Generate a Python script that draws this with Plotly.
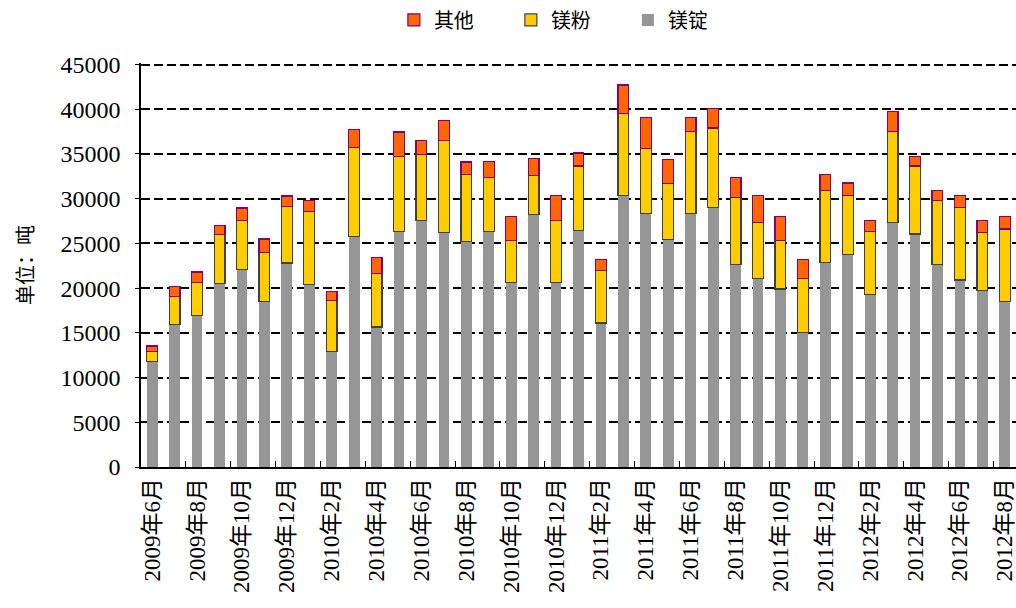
import plotly.graph_objects as go

months = []
for y in (2009, 2010, 2011, 2012):
    for m in range(1, 13):
        if (y == 2009 and m < 6) or (y == 2012 and m > 8):
            continue
        months.append(f"{y}年{m}月")

ingot = [11770, 15900, 16900, 20500, 22100, 18500, 22800, 20450, 12900, 25800,
         15650, 26350, 27600, 26200, 25200, 26350, 20650, 28200, 20650, 26400,
         16100, 30350, 28350, 25400, 28350, 29050, 22650, 21050, 19900, 15050,
         22850, 23800, 19250, 27350, 26050, 22650, 20900, 19700, 18500]
powder = [1100, 3200, 3700, 5500, 5450, 5500, 6300, 8150, 5750, 9900,
          5950, 8350, 7300, 10300, 7500, 6000, 4700, 4350, 6900, 7250,
          5900, 9150, 7300, 6300, 9150, 8850, 7500, 6300, 5450, 6000,
          8050, 6550, 7100, 10150, 7600, 7150, 8100, 6550, 8100]
other = [670, 1100, 1200, 1000, 1400, 1500, 1200, 1200, 1000, 2000,
         1800, 2750, 1600, 2200, 1400, 1800, 2650, 1950, 2800, 1450,
         1200, 3200, 3400, 2650, 1600, 2200, 2200, 3000, 2650, 2150,
         1800, 1400, 1250, 2250, 1100, 1150, 1350, 1350, 1450]

yticks = list(range(0, 45001, 5000))
ytick_text = [str(v) for v in yticks]
label_months = months[::2]
boundaries = [i + 1.5 for i in range(0, len(months) - 1, 2)]

FONT = "Liberation Serif, Noto Sans CJK SC, serif"

fig = go.Figure()
fig.add_trace(go.Bar(x=months, y=ingot, name="镁锭",
                     marker=dict(color="#969696", line=dict(width=0))))
fig.add_trace(go.Bar(x=months, y=powder, name="镁粉",
                     marker=dict(color="#FFCC00", line=dict(color="#404040", width=1.2))))
fig.add_trace(go.Bar(x=months, y=other, name="其他",
                     marker=dict(color="#FF6600", line=dict(color="#800080", width=1.2))))
# invisible helper trace on overlay axis for boundary tick marks
fig.add_trace(go.Scatter(x=[boundaries[0]], y=[0], xaxis="x2", mode="markers",
                         marker=dict(opacity=0), showlegend=False, hoverinfo="skip"))

fig.update_layout(
    width=1016, height=608,
    margin=dict(l=141, r=0, t=63, b=141, autoexpand=False),
    barmode="stack", bargap=0.52,
    plot_bgcolor="white", paper_bgcolor="white",
    font=dict(family=FONT, size=18, color="#000000"),
    legend=dict(orientation="h", traceorder="reversed",
                x=0.289, xanchor="left", y=1.155, yanchor="top",
                entrywidth=72, entrywidthmode="pixels",
                font=dict(size=20, family=FONT)),
    xaxis=dict(type="category", categoryorder="array", categoryarray=months,
               range=[-0.5, len(months) - 0.5], automargin=False,
               tickmode="array", tickvals=label_months, ticktext=label_months,
               tickangle=-90, ticks="", showline=True, linecolor="black", linewidth=1.5,
               showgrid=False, tickfont=dict(size=23, family=FONT)),
    xaxis2=dict(overlaying="x", range=[-0.5, len(months) - 0.5], automargin=False,
                tickmode="array", tickvals=boundaries, showticklabels=False,
                ticks="inside", ticklen=6, tickcolor="black", tickwidth=1.2,
                showgrid=False, zeroline=False, side="bottom", anchor="y"),
    yaxis=dict(range=[0, 45170], tickmode="array", tickvals=yticks, ticktext=ytick_text,
               ticks="outside", ticklen=4, tickcolor="black", automargin=False,
               ticklabelstandoff=10,
               showline=True, linecolor="black", linewidth=1.5,
               showgrid=True, gridcolor="black", gridwidth=2, griddash="9px,4px",
               zeroline=False, tickfont=dict(size=24, family=FONT),
               title=dict(text="单位：吨", font=dict(size=20, family=FONT), standoff=21)),
)

fig.write_html("out.html", config={"displayModeBar": False},
               post_script="document.body.style.margin='0';document.body.style.overflow='hidden';")
